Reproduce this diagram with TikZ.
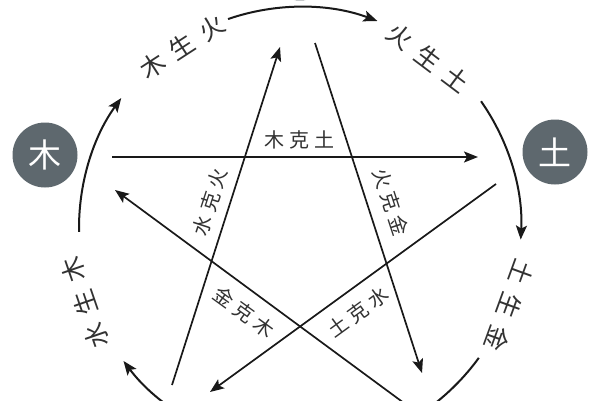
\documentclass[tikz,border=0pt]{standalone}
\usepackage{fontspec}
\newfontfamily\cjk{Noto Sans CJK SC}
\newfontfamily\cjkke[LetterSpace=25]{Noto Sans CJK SC}
\newfontfamily\cjksheng[LetterSpace=40]{Noto Sans CJK SC}
\usetikzlibrary{arrows.meta}
\definecolor{elemgray}{RGB}{94,104,110}
\definecolor{inkc}{RGB}{25,25,25}
\definecolor{labc}{RGB}{50,50,50}
\begin{document}
\begin{tikzpicture}[x=1pt,y=1pt,
  elem/.style={circle,fill=elemgray,minimum size=65pt,inner sep=0pt,text=white,font=\cjk\fontsize{33}{33}\selectfont},
  tipstyle/.style={-{Stealth[length=14pt,width=11pt,inset=3pt]}},
  kearrow/.style={draw=inkc,line width=1.7pt,tipstyle},
  shengarrow/.style={draw=inkc,line width=2pt,tipstyle},
  kelab/.style={text=labc,font=\cjkke\fontsize{20}{20}\selectfont,inner sep=0pt},
  shenglab/.style={text=labc,font=\cjksheng\fontsize{25}{25}\selectfont,inner sep=0pt}]
\useasboundingbox (0,0) rectangle (600,400);
\fill[white] (0,0) rectangle (600,400);

% element circles (the fire circle only shows as a sliver at the top edge)
\node[elem] (mu) at (45,245) {木};
\node[elem] (tu) at (555,248) {土};
\node[elem] (huo) at (300,432) {};

% centre of the generating cycle
\coordinate (O) at (300,172);

% generating-cycle arcs
\coordinate (s1) at ([shift={(O)}]181:221);
\coordinate (s2) at ([shift={(O)}]109:221);
\coordinate (s3) at ([shift={(O)}]35:221);
\coordinate (s4) at ([shift={(O)}]-36:221);
\coordinate (s5) at ([shift={(O)}]253:221);
\draw[shengarrow] (s1) arc[start angle=181,end angle=144,radius=221];
\draw[shengarrow] (s2) arc[start angle=109,end angle=69.5,radius=221];
\draw[shengarrow] (s3) arc[start angle=35,end angle=-3,radius=221];
\draw[shengarrow] (s4) arc[start angle=-36,end angle=-73,radius=221];
\draw[shengarrow] (s5) arc[start angle=253,end angle=217,radius=221];

% generating labels
\node[shenglab,rotate=33] (l1) at (182,353) {木生火};
\node[shenglab,rotate=-37] (l2) at (428,342) {火生土};
\node[shenglab,rotate=-110] (l3) at (510,94) {土生金};
\node[shenglab,rotate=109] (l4) at (85,97) {水生木};

% controlling star
\coordinate (a1) at (112,243); \coordinate (b1) at (478,243);
\coordinate (a2) at (496,216); \coordinate (b2) at (210,8);
\coordinate (a3) at (427,-20); \coordinate (b3) at (115,210);
\coordinate (a4) at (172,15);  \coordinate (b4) at (280,353);
\coordinate (a5) at (315,357); \coordinate (b5) at (422,27);
\draw[kearrow] (a1) -- (b1);
\draw[kearrow] (a2) -- (b2);
\draw[kearrow] (a3) -- (b3);
\draw[kearrow] (a4) -- (b4);
\draw[kearrow] (a5) -- (b5);

% controlling labels
\node[kelab] (k1) at (299,260) {木克土};
\node[kelab,rotate=72] (k4) at (210,198) {水克火};
\node[kelab,rotate=-72] (k5) at (391,198) {火克金};
\node[kelab,rotate=-36] (k3) at (244,88) {金克木};
\node[kelab,rotate=36] (k2) at (358,88) {土克水};
\end{tikzpicture}
\end{document}
